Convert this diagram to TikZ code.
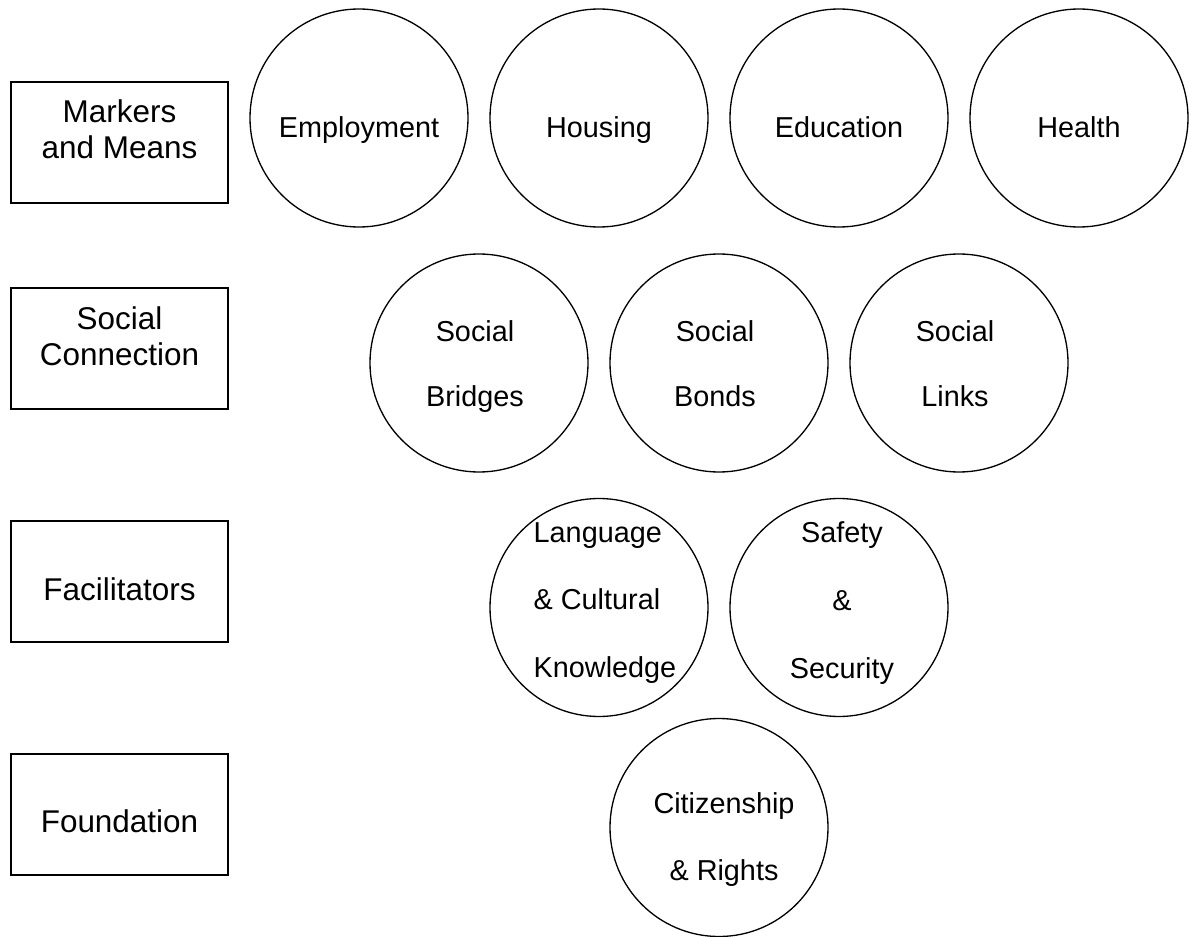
\documentclass[tikz,border=0pt]{standalone}
\usepackage{fontspec}
\setmainfont{Liberation Sans}
\usepackage{tikz}

\begin{document}
\begin{tikzpicture}[every node/.style={font=\fontsize{16.4}{37}\selectfont},
  tierbox/.style={draw, line width=0.8pt, minimum width=4.34cm, minimum height=2.42cm, inner sep=0pt},
  tiername/.style={align=center, font=\fontsize{17.9}{20.5}\selectfont},
  ring/.style={draw, circle, line width=0.75pt, minimum size=4.36cm, inner sep=0pt},
  tall/.style={font=\fontsize{16.4}{38.5}\selectfont}]

  \useasboundingbox (0,0) rectangle (23.78,18.72);

  % tiers on the left
  \node[tierbox] (markers) at (2.39,15.87) {};
  \node[tiername] (markerstext) at ([yshift=0.26cm]markers.center) {Markers\\and Means};

  \node[tierbox] (connection) at (2.39,11.75) {};
  \node[tiername] (connectiontext) at ([yshift=0.24cm]connection.center) {Social\\Connection};

  \node[tierbox] (facilitators) at (2.39,7.09) {};
  \node[tiername, anchor=base] (facilitatorstext) at ([yshift=-0.37cm]facilitators.center) {Facilitators};

  \node[tierbox] (foundation) at (2.39,2.43) {};
  \node[tiername, anchor=base] (foundationtext) at ([yshift=-0.35cm]foundation.center) {Foundation};

  % markers and means
  \node[ring] (employment) at (7.18,16.36) {};
  \node[anchor=base] (employmenttext) at ([yshift=-0.4cm]employment.center) {Employment};
  \node[ring] (housing) at (11.98,16.36) {};
  \node[anchor=base] (housingtext) at ([yshift=-0.4cm]housing.center) {Housing};
  \node[ring] (education) at (16.78,16.36) {};
  \node[anchor=base] (educationtext) at ([yshift=-0.4cm]education.center) {Education};
  \node[ring] (health) at (21.58,16.36) {};
  \node[anchor=base] (healthtext) at ([yshift=-0.4cm]health.center) {Health};

  % social connection
  \node[ring] (bridges) at (9.58,11.46) {};
  \node[align=center] (bridgestext) at ([xshift=-0.08cm, yshift=-0.08cm]bridges.center) {Social\\Bridges};
  \node[ring] (bonds) at (14.38,11.46) {};
  \node[align=center] (bondstext) at ([xshift=-0.08cm, yshift=-0.02cm]bonds.center) {Social\\Bonds};
  \node[ring] (links) at (19.18,11.46) {};
  \node[align=center] (linkstext) at ([xshift=-0.08cm, yshift=-0.02cm]links.center) {Social\\Links};

  % facilitators
  \node[ring] (language) at (11.98,6.57) {};
  \node[tall, align=left] (languagetext) at ([xshift=0.12cm, yshift=0.09cm]language.center) {Language\\\& Cultural\\Knowledge};
  \node[ring] (safety) at (16.78,6.57) {};
  \node[tall, align=center] (safetytext) at ([xshift=0.06cm, yshift=0.09cm]safety.center) {Safety\\\&\\Security};

  % foundation
  \node[ring] (citizenship) at (14.38,2.17) {};
  \node[tall, align=center] (citizenshiptext) at ([xshift=0.1cm, yshift=-0.24cm]citizenship.center) {Citizenship\\\& Rights};

\end{tikzpicture}
\end{document}
